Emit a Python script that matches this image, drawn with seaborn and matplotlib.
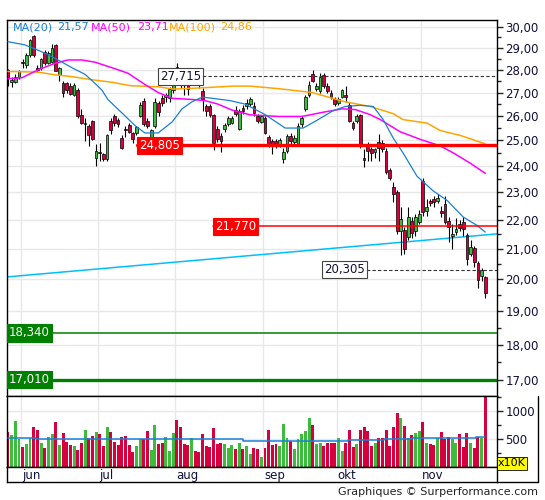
import numpy as np
import seaborn as sns
import matplotlib
matplotlib.use("Agg")
import matplotlib.pyplot as plt
import matplotlib.transforms as mtransforms
from matplotlib.lines import Line2D
from matplotlib.ticker import FixedLocator, NullFormatter, FuncFormatter

# daily candles (index 0 = first visible session)
opens = [27.98, 27.45, 27.47, 27.70, 28.38, 28.20, 28.69, 29.55, 28.10, 28.10,
         28.80, 28.30, 28.35, 29.15, 27.78, 27.40, 27.40, 27.30, 26.91, 27.12,
         26.06, 25.65, 25.58, 25.80, 24.30, 24.55, 24.45, 24.25, 25.80, 26.00,
         25.85, 25.10, 25.48, 25.63, 25.30, 25.28, 26.00, 26.62, 25.80, 25.12,
         25.60, 26.55, 26.75, 26.82, 26.75, 27.12, 28.15, 27.70, 27.50, 27.50,
         27.55, 27.75, 27.55, 27.05, 26.40, 26.40, 26.03, 25.47, 25.17, 25.48,
         25.65, 25.72, 26.27, 25.45, 26.35, 26.40, 26.50, 26.40, 26.00, 25.77,
         25.93, 25.15, 24.97, 24.97, 24.84, 24.25, 24.58, 25.18, 24.93, 24.84,
         25.65, 26.30, 26.91, 27.80, 27.15, 27.05, 27.75, 27.30, 27.00, 26.70,
         26.55, 26.80, 26.88, 26.48, 25.72, 25.80, 26.06, 24.30, 24.87, 24.67,
         24.52, 24.93, 24.90, 24.58, 23.84, 23.18, 23.00, 21.60, 21.63, 21.40,
         21.95, 21.60, 21.93, 23.43, 22.33, 22.66, 22.75, 22.67, 22.30, 22.57,
         21.97, 21.42, 21.58, 21.86, 21.93, 21.46, 20.84, 21.03, 20.51, 20.09,
         20.08]
highs = [28.05, 27.70, 27.80, 28.00, 28.50, 28.75, 29.45, 29.62, 28.20, 28.55,
         28.90, 28.85, 29.20, 29.20, 28.15, 27.50, 27.45, 27.40, 27.40, 27.20,
         26.30, 25.90, 25.65, 25.85, 24.84, 24.90, 24.50, 25.25, 25.90, 26.10,
         25.90, 25.20, 25.60, 25.70, 25.35, 25.60, 26.60, 26.75, 25.90, 25.45,
         26.75, 26.65, 26.90, 27.00, 27.25, 27.60, 28.30, 27.85, 27.60, 27.75,
         28.05, 27.85, 27.65, 27.20, 26.50, 26.50, 26.10, 25.60, 25.30, 25.70,
         26.00, 26.00, 26.40, 26.30, 26.45, 26.70, 26.80, 26.60, 26.10, 26.05,
         26.00, 25.20, 25.05, 25.05, 25.10, 24.70, 25.25, 25.30, 25.20, 25.70,
         26.00, 26.90, 27.50, 27.98, 27.40, 27.85, 27.85, 27.40, 27.10, 26.80,
         26.80, 27.15, 27.30, 26.60, 25.80, 26.10, 26.10, 24.65, 24.95, 24.75,
         24.70, 25.24, 25.00, 24.70, 23.90, 23.37, 23.10, 22.45, 21.75, 22.45,
         22.10, 22.20, 22.35, 23.55, 22.75, 22.75, 22.85, 22.95, 22.50, 22.87,
         22.10, 21.85, 22.05, 22.00, 22.10, 21.55, 21.30, 21.10, 20.60, 20.35,
         20.10]
lows = [27.30, 27.25, 27.40, 27.60, 28.10, 28.10, 28.60, 28.60, 27.90, 28.00,
        28.20, 28.25, 28.30, 27.95, 27.50, 26.80, 27.00, 26.90, 26.85, 25.90,
        25.65, 24.98, 24.77, 25.00, 24.00, 24.20, 24.20, 24.20, 25.24, 25.60,
        25.55, 24.65, 25.15, 25.30, 24.90, 25.20, 25.95, 25.60, 25.50, 25.05,
        25.50, 26.00, 26.40, 26.60, 26.60, 27.00, 27.80, 27.20, 26.90, 26.90,
        27.50, 27.35, 27.20, 26.20, 26.00, 25.95, 24.62, 24.95, 24.53, 25.35,
        25.60, 25.65, 26.00, 25.40, 26.10, 26.30, 26.40, 26.00, 25.70, 25.70,
        25.25, 24.75, 24.45, 24.70, 24.75, 24.10, 24.50, 24.85, 24.85, 24.80,
        25.55, 26.20, 26.80, 27.45, 27.05, 27.00, 27.20, 27.00, 26.70, 26.40,
        26.45, 26.75, 26.60, 25.75, 25.40, 25.70, 24.70, 23.95, 24.20, 24.20,
        24.30, 24.20, 24.55, 23.70, 23.45, 22.63, 21.50, 20.78, 20.84, 21.30,
        21.35, 21.45, 21.85, 22.15, 22.15, 22.50, 22.45, 22.60, 22.10, 21.85,
        21.23, 21.00, 21.48, 21.60, 21.45, 20.46, 20.75, 20.40, 19.70, 19.95,
        19.39]
closes = [27.70, 27.55, 27.70, 27.95, 28.32, 28.70, 29.40, 28.69, 28.00, 28.50,
          28.30, 28.75, 29.00, 27.97, 28.10, 27.00, 27.10, 26.95, 27.34, 25.98,
          25.70, 25.72, 25.20, 25.04, 24.57, 24.50, 24.25, 25.20, 25.42, 25.70,
          25.65, 24.70, 25.42, 25.34, 25.04, 25.55, 26.45, 25.65, 25.60, 25.40,
          26.60, 26.15, 26.55, 26.90, 27.17, 27.48, 28.00, 27.35, 27.35, 27.15,
          27.80, 27.45, 27.35, 26.72, 26.20, 26.06, 24.90, 25.04, 24.97, 25.62,
          25.92, 25.92, 26.10, 26.20, 26.20, 26.55, 26.70, 26.13, 25.80, 25.98,
          25.30, 24.80, 24.77, 24.80, 25.00, 24.53, 25.18, 24.97, 25.10, 25.60,
          25.93, 26.80, 27.34, 27.50, 27.30, 27.70, 27.28, 27.05, 26.80, 26.50,
          26.70, 27.10, 26.82, 25.80, 25.52, 26.00, 24.80, 24.22, 24.58, 24.50,
          24.64, 24.70, 24.65, 23.75, 23.52, 22.93, 21.60, 22.04, 21.00, 22.10,
          21.54, 22.10, 22.21, 22.27, 22.45, 22.60, 22.63, 22.79, 22.25, 21.93,
          21.74, 21.50, 21.69, 21.72, 21.69, 20.67, 21.06, 20.56, 19.97, 20.30,
          19.57]
# volume in units of 10K shares
volumes = [618, 564, 818, 503, 364, 418, 509, 709, 654, 436,
           345, 527, 582, 800, 400, 600, 455, 400, 382, 309,
           436, 654, 509, 545, 618, 582, 382, 709, 618, 455,
           400, 527, 545, 400, 273, 382, 491, 491, 636, 309,
           745, 418, 436, 527, 291, 600, 836, 709, 418, 400,
           509, 291, 273, 582, 382, 364, 691, 418, 436, 418,
           345, 400, 327, 436, 327, 382, 236, 345, 327, 182,
           345, 654, 400, 418, 382, 764, 509, 473, 327, 491,
           582, 636, 873, 745, 418, 436, 382, 436, 436, 436,
           509, 291, 436, 654, 364, 418, 654, 709, 636, 382,
           436, 509, 509, 654, 382, 709, 964, 873, 727, 509,
           564, 600, 636, 800, 436, 418, 400, 509, 618, 491,
           527, 491, 436, 582, 364, 600, 436, 345, 527, 509,
           1250]

# moving averages sampled along the lines (session index, value)
ma20_x = [0, 4.6, 8.2, 10.9, 14.2, 17.4, 21, 23.7, 25.6, 27.2, 29.2, 31.9, 34.6,
          37.3, 40.9, 44.7, 47.4, 50.1, 52.9, 55.6, 60.5, 64.6, 70, 75.5, 80.4,
          84.5, 88.3, 91.8, 95.9, 99.5, 102.2, 104.9, 107.6, 111.4, 115.8,
          119.6, 124, 127.8, 130]
ma20_v = [29.3, 29.15, 28.9, 28.7, 28.4, 28.1, 27.8, 27.4, 27.1, 26.7, 26.4, 26.0,
          25.6, 25.3, 25.3, 25.75, 26.3, 26.6, 26.8, 26.75, 26.65, 26.5, 26.06,
          25.5, 25.5, 25.85, 26.2, 26.4, 26.45, 26.4, 25.85, 25.1, 24.5, 23.6,
          23.05, 22.7, 22.1, 21.8, 21.57]
ma50_x = [0, 3.8, 8.2, 12.8, 16.3, 20.2, 23.7, 28.3, 32.7, 37.3, 40.9, 44.7, 50.1,
          53.7, 57.2, 61, 65.9, 73.6, 80.1, 85.6, 91, 94.6, 98.6, 101.4, 106.8,
          112.3, 117.7, 121.3, 125.9, 130]
ma50_v = [27.6, 27.65, 28.0, 28.3, 28.45, 28.45, 28.35, 28.1, 27.85, 27.35, 27.0,
          26.75, 26.7, 26.65, 26.5, 26.25, 26.05, 25.98, 25.98, 26.15, 26.3,
          26.27, 26.06, 25.85, 25.35, 25.04, 24.78, 24.5, 24.1, 23.71]
ma100_x = [0, 8.2, 12.8, 17.4, 22.9, 28.3, 33.2, 40.9, 45, 52.3, 61.3, 65.9, 73.6,
           82.8, 91.8, 98.6, 104.9, 107.6, 114.2, 117.7, 123.2, 130]
ma100_v = [27.93, 27.9, 27.78, 27.7, 27.56, 27.45, 27.3, 27.25, 27.15, 27.2, 27.28,
           27.28, 27.17, 27.0, 26.6, 26.4, 26.1, 25.85, 25.7, 25.4, 25.2, 24.86]
vol_ma_x = [0, 15, 30, 45, 60, 68, 85, 100, 105, 115, 125, 130]
vol_ma_v = [510, 505, 500, 500, 495, 470, 470, 480, 495, 510, 515, 535]

trend_x = [-0.3, 133.3]
trend_v = [20.07, 21.51]

ma_names = ["MA(20)", "MA(50)", "MA(100)"]
ma_last = [21.57, 23.71, 24.86]
levels = [27.715, 24.805, 21.770, 20.305, 18.340, 17.010]
months = ["jun", "jul", "aug", "sep", "okt", "nov"]
month_first = [4, 25, 46, 70, 90, 113]

GREEN = "#3cbb3c"
RED = "#d6003f"
C20, C50, C100 = "#1a7fd6", "#ff00ff", "#ffa500"
TXT = "#10103a"

sns.set_theme(style="white")
plt.rcParams["font.family"] = ["DejaVu Sans"]

W, H = 545, 500
fig = plt.figure(figsize=(W / 100, H / 100), dpi=100)


def px_box(x0, y0, x1, y1):
    return [x0 / W, 1 - y1 / H, (x1 - x0) / W, (y1 - y0) / H]


ax = fig.add_axes(px_box(7, 20, 497, 395.7))
axv = fig.add_axes(px_box(7, 395.7, 497, 467))
axl = fig.add_axes(px_box(7, 467, 497, 482))

o = np.array(opens); h = np.array(highs); l = np.array(lows); c = np.array(closes)
idx = np.arange(len(c))
up = c >= o
cols = np.where(up, GREEN, RED)
grid_x = [m - 0.5 for m in month_first]
xlim = (-0.27, 133.2)

# price panel
ax.set_yscale("log")
ax.set_xlim(*xlim)
ax.set_ylim(16.58, 30.34)
for g in grid_x:
    ax.axvline(g, color="#e8e8e8", lw=1, zorder=0)
for v in range(17, 31):
    ax.axhline(v, color="#e8e8e8", lw=1, zorder=0)

sns.lineplot(x=trend_x, y=trend_v, ax=ax, color="#00bfff", lw=1.1, zorder=2)
ax.vlines(idx, l, h, color="black", lw=0.8, zorder=3)
body_lo = np.minimum(o, c)
body_h = np.maximum(np.abs(c - o), 0.03)
ax.bar(idx, body_h, bottom=body_lo, width=0.74, color=cols, edgecolor="black",
       linewidth=0.5, zorder=4)
sns.lineplot(x=ma100_x, y=ma100_v, ax=ax, color=C100, lw=1.1, zorder=5)
sns.lineplot(x=ma50_x, y=ma50_v, ax=ax, color=C50, lw=1.1, zorder=5)
sns.lineplot(x=ma20_x, y=ma20_v, ax=ax, color=C20, lw=0.9, zorder=5)

ax.yaxis.tick_right()
ax.yaxis.set_major_locator(FixedLocator(list(range(17, 31))))
ax.yaxis.set_minor_locator(FixedLocator([v + 0.5 for v in range(16, 31)]))
ax.yaxis.set_major_formatter(FuncFormatter(lambda v, p: f"{v:.2f}".replace(".", ",")))
ax.yaxis.set_minor_formatter(NullFormatter())
ax.tick_params(axis="y", which="major", direction="out", length=4, width=1,
               labelsize=8.5, labelcolor=TXT, pad=2, right=True, left=False)
ax.tick_params(axis="y", which="minor", direction="out", length=3, width=1,
               right=True, left=False)
ax.set_xticks([])
ax.set_xlabel("")
ax.set_ylabel("")

# support / resistance levels with their tags
trans = mtransforms.blended_transform_factory(ax.transAxes, ax.transData)
styles = [
    (0.308, "white", TXT, "#444444", "--", 0.8, "#333333"),
    (0.265, "#ff0000", "white", "#ff0000", "-", 2.4, "#ff0000"),
    (0.420, "#ff0000", "white", "#ff0000", "-", 1.1, "#ff0000"),
    (0.643, "white", TXT, "#444444", "--", 0.8, "#333333"),
    (0.0, "#008000", "white", "#008000", "-", 1.1, "#008000"),
    (0.0, "#008000", "white", "#008000", "-", 2.4, "#008000"),
]
for val, (fx, fc, tc, ec, ls, lw, lc) in zip(levels, styles):
    ax.plot([fx, 1], [val, val], transform=trans, color=lc, ls=ls, lw=lw,
            zorder=6, dashes=(3, 2) if ls == "--" else (None, None))
    ax.text(fx + 0.004, val, f"{val:.3f}".replace(".", ","), transform=trans,
            ha="left", va="center", fontsize=8.5, color=tc, zorder=7,
            bbox=dict(boxstyle="square,pad=0.18", fc=fc, ec=ec, lw=0.8))

# legend
leg_x = [(13, 57), (91, 137), (169, 220)]
for name, last, col, (x1, x2) in zip(ma_names, ma_last, [C20, C50, C100], leg_x):
    fig.text(x1 / W, 1 - 27 / H, name, color=col, fontsize=8, va="center")
    fig.text(x2 / W, 1 - 27 / H, f"{last:.2f}".replace(".", ","), color=col,
             fontsize=8, va="center")

# volume panel
axv.set_xlim(*xlim)
axv.set_ylim(0, 1273)
for g in grid_x:
    axv.axvline(g, color="#e8e8e8", lw=1, zorder=0)
for v in [500, 1000]:
    axv.axhline(v, color="#e8e8e8", lw=1, zorder=0)
axv.bar(idx, volumes, width=0.8, color=cols, linewidth=0, zorder=2)
sns.lineplot(x=vol_ma_x, y=vol_ma_v, ax=axv, color=C20, lw=1.1, zorder=3,
             drawstyle="steps-mid")
axv.yaxis.tick_right()
axv.yaxis.set_major_locator(FixedLocator([500, 1000]))
axv.yaxis.set_minor_locator(FixedLocator([250, 750, 1250]))
axv.yaxis.set_minor_formatter(NullFormatter())
axv.tick_params(axis="y", which="major", direction="out", length=4, width=1,
                labelsize=8.5, labelcolor=TXT, pad=2, right=True, left=False)
axv.tick_params(axis="y", which="minor", direction="out", length=3, width=1,
                right=True, left=False)
axv.set_xticks([])
axv.set_xlabel("")
axv.set_ylabel("")
fig.text(498 / W, 1 - 463.5 / H, "x10K", fontsize=8, color="black", va="center",
         bbox=dict(boxstyle="square,pad=0.12", fc="#ffff00", ec="black", lw=0.6))

# month strip
axl.set_xlim(*xlim)
axl.set_ylim(0, 1)
axl.set_xticks([])
axl.set_yticks([])
for name, g in zip(months, grid_x):
    axl.text(g + 0.3, 0.45, name, fontsize=8.5, color=TXT, va="center", ha="left")

for a in (ax, axv, axl):
    for s in a.spines.values():
        s.set_color("black")
        s.set_linewidth(1.0)
    a.set_facecolor("white")

fig.add_artist(Line2D([538 / W, 538 / W], [1 - 395.7 / H, 1 - 482 / H],
                      color="black", lw=1.0))
fig.add_artist(Line2D([497 / W, 538 / W], [1 - 482 / H, 1 - 482 / H],
                      color="black", lw=1.0))

fig.text(538 / W, 1 - 492 / H, "Graphiques \u00a9 Surperformance.com", ha="right",
         va="center", fontsize=8, color="#222222")

fig.savefig("out.png", dpi=100, facecolor="white")
